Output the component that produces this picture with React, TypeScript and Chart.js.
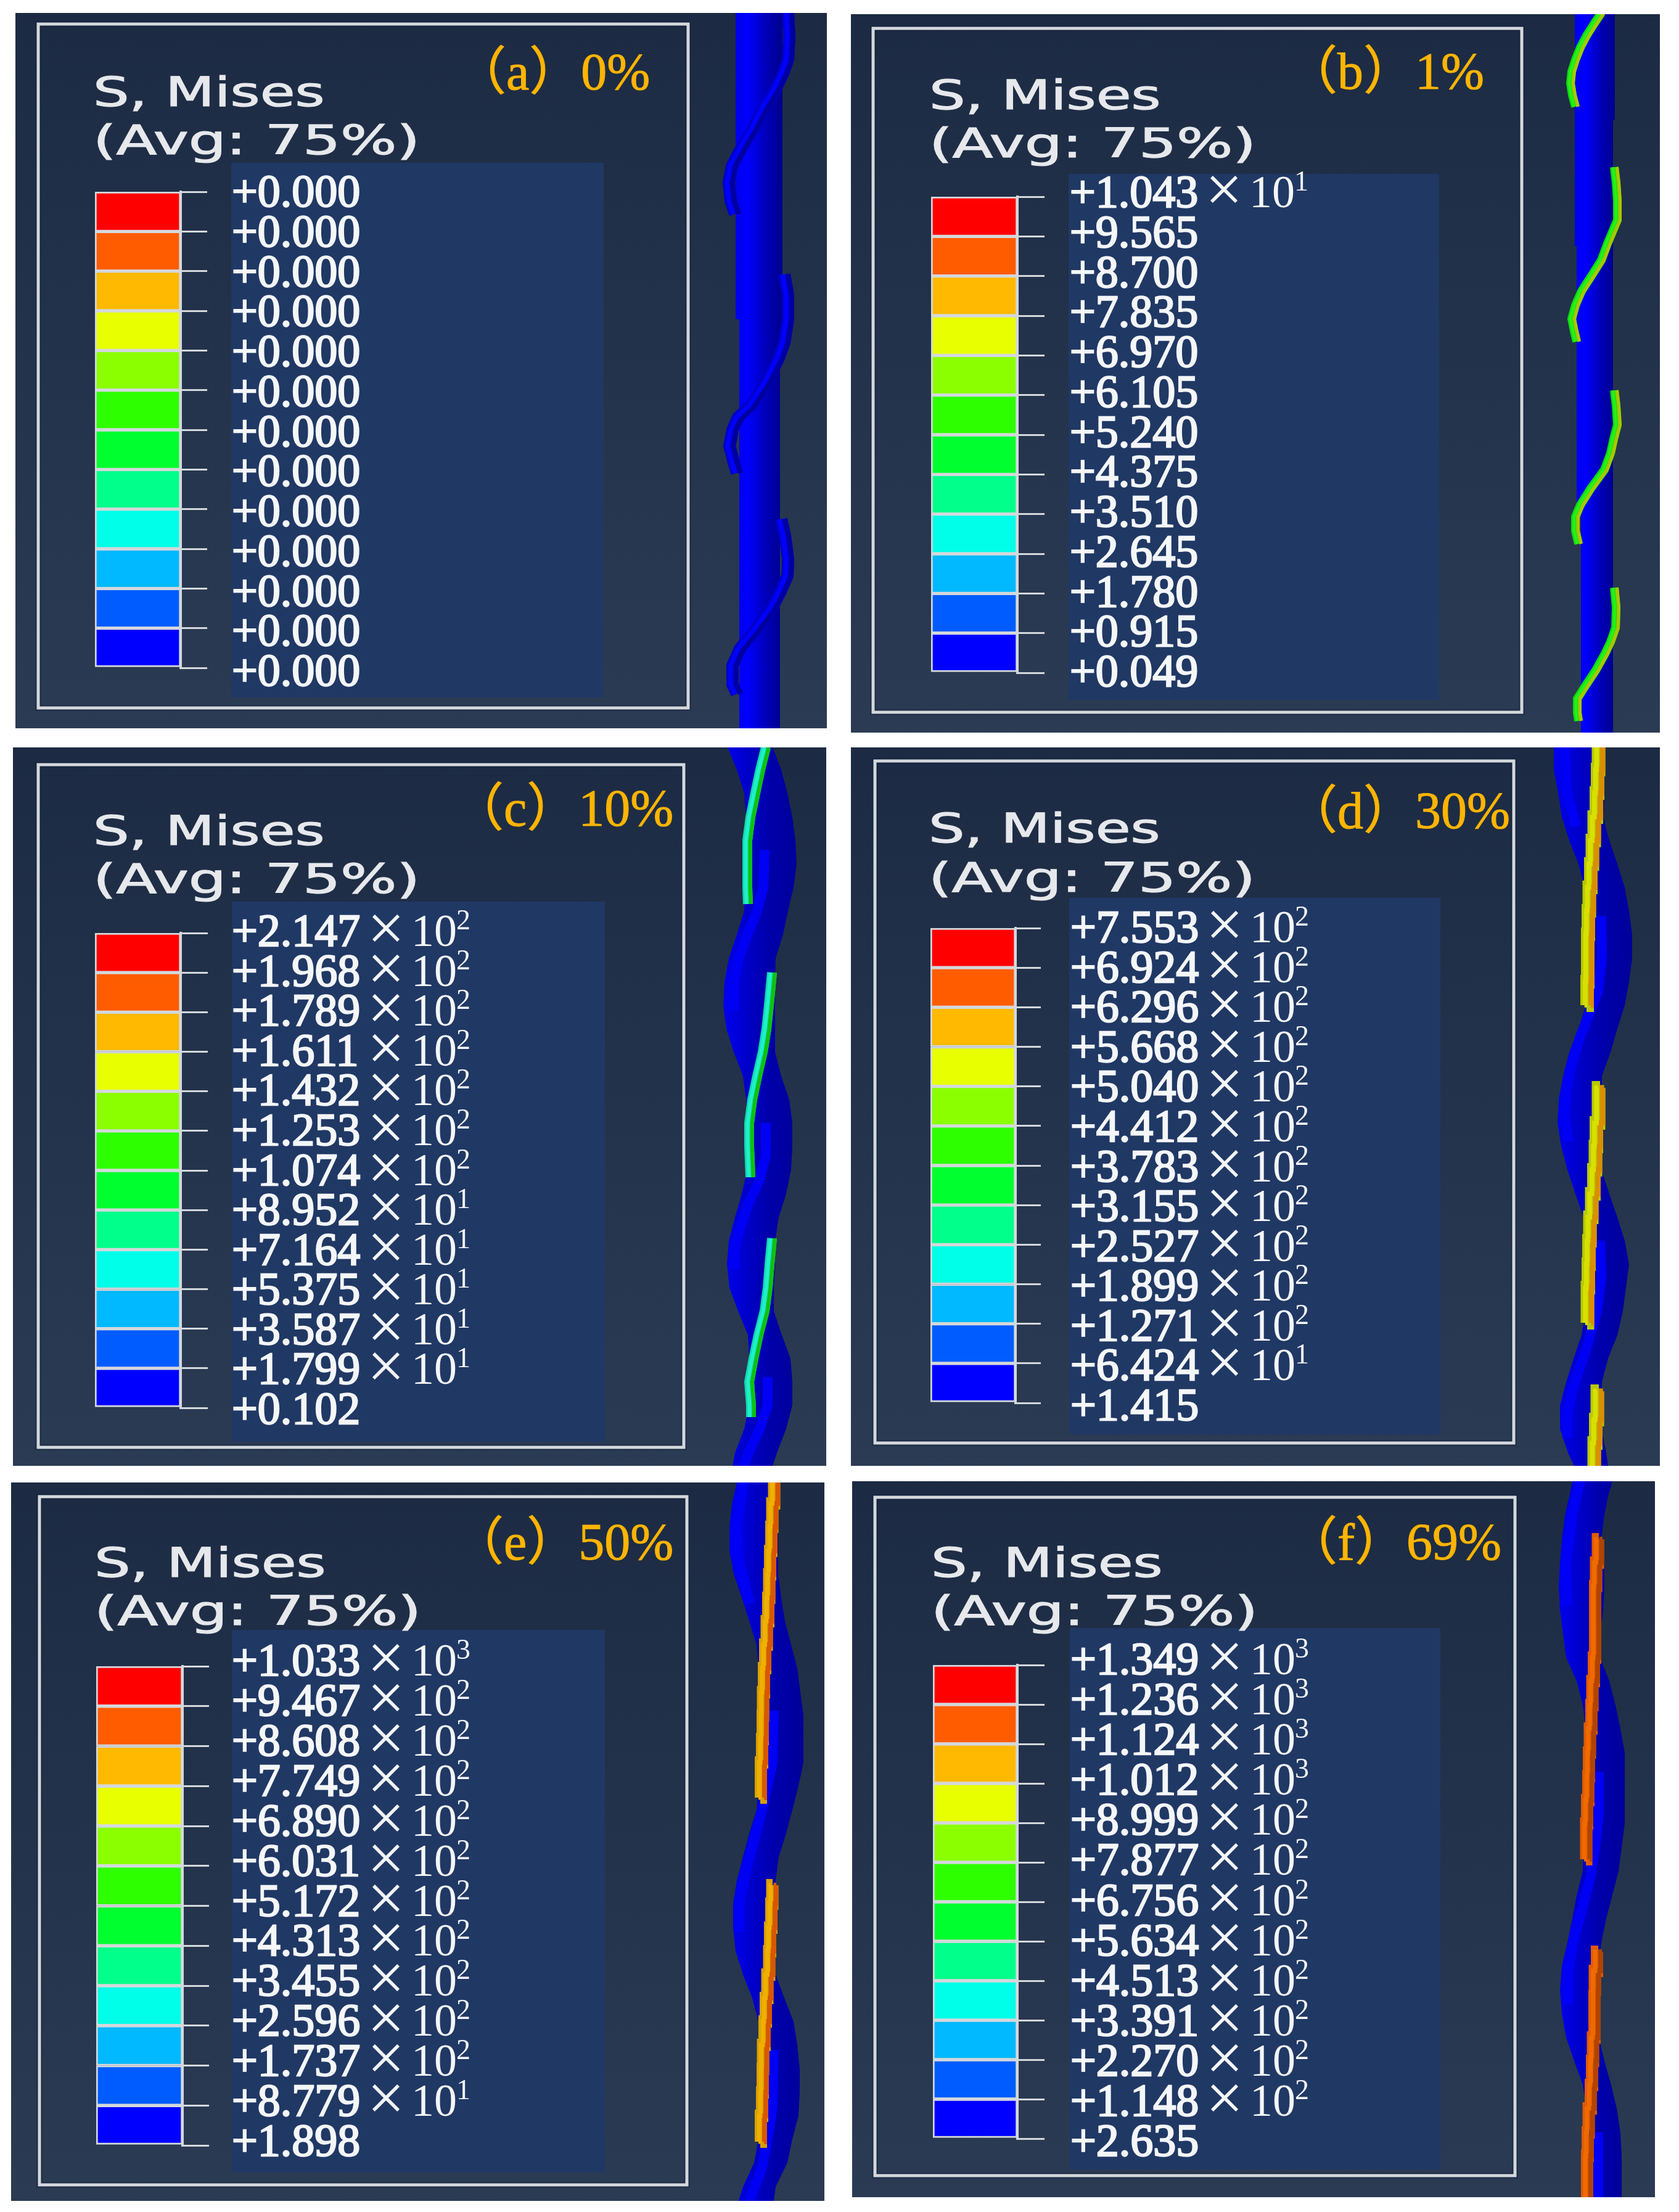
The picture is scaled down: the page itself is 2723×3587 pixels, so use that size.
import React, { useEffect, useRef } from "react";
import { Chart, registerables } from "chart.js";

Chart.register(...registerables);

// ---------- colour legend ----------
const BAND_COLORS = ["#0000ff", "#005cff", "#00b9ff", "#00ffe8", "#00ff8b", "#00ff2e", "#2eff00", "#8bff00", "#e8ff00", "#ffb900", "#ff5c00", "#ff0000"];
const BAND_INDEX = [0, 1, 2, 3, 4, 5, 6, 7, 8, 9, 10, 11];

// ---------- legend tick labels, top to bottom ----------
const valuesA = ["+0.000", "+0.000", "+0.000", "+0.000", "+0.000", "+0.000", "+0.000", "+0.000", "+0.000", "+0.000", "+0.000", "+0.000", "+0.000"];
const expA = [0, 0, 0, 0, 0, 0, 0, 0, 0, 0, 0, 0, 0];
const valuesB = ["+1.043", "+9.565", "+8.700", "+7.835", "+6.970", "+6.105", "+5.240", "+4.375", "+3.510", "+2.645", "+1.780", "+0.915", "+0.049"];
const expB = [1, 0, 0, 0, 0, 0, 0, 0, 0, 0, 0, 0, 0];
const valuesC = ["+2.147", "+1.968", "+1.789", "+1.611", "+1.432", "+1.253", "+1.074", "+8.952", "+7.164", "+5.375", "+3.587", "+1.799", "+0.102"];
const expC = [2, 2, 2, 2, 2, 2, 2, 1, 1, 1, 1, 1, 0];
const valuesD = ["+7.553", "+6.924", "+6.296", "+5.668", "+5.040", "+4.412", "+3.783", "+3.155", "+2.527", "+1.899", "+1.271", "+6.424", "+1.415"];
const expD = [2, 2, 2, 2, 2, 2, 2, 2, 2, 2, 2, 1, 0];
const valuesE = ["+1.033", "+9.467", "+8.608", "+7.749", "+6.890", "+6.031", "+5.172", "+4.313", "+3.455", "+2.596", "+1.737", "+8.779", "+1.898"];
const expE = [3, 2, 2, 2, 2, 2, 2, 2, 2, 2, 2, 1, 0];
const valuesF = ["+1.349", "+1.236", "+1.124", "+1.012", "+8.999", "+7.877", "+6.756", "+5.634", "+4.513", "+3.391", "+2.270", "+1.148", "+2.635"];
const expF = [3, 3, 3, 3, 2, 2, 2, 2, 2, 2, 2, 2, 0];

// ---------- tube outlines: y, left edge, right edge ----------
const tubeAy = [21, 517, 518, 556, 557, 1181];
const tubeAl = [1193, 1193, 1199, 1199, 1199, 1199];
const tubeAr = [1269, 1269, 1269, 1269, 1265, 1265];
const tubeBy = [21, 194, 195, 399, 400, 832, 833, 1188];
const tubeBl = [2554, 2554, 2554, 2554, 2557, 2557, 2564, 2564];
const tubeBr = [2619, 2619, 2616, 2616, 2616, 2616, 2616, 2616];
const tubeCy = [1212, 1248, 1286, 1325, 1363, 1401, 1439, 1477, 1515, 1554, 1592, 1630, 1668, 1706, 1745, 1783, 1821, 1859, 1897, 1936, 1974, 2012, 2050, 2088, 2126, 2165, 2203, 2241, 2279, 2317, 2356, 2377];
const tubeCl = [1180, 1195, 1207, 1210, 1210, 1210, 1208, 1207, 1195, 1182, 1175, 1173, 1178, 1190, 1205, 1210, 1210, 1210, 1212, 1203, 1192, 1182, 1179, 1183, 1197, 1213, 1215, 1208, 1215, 1207, 1192, 1188];
const tubeCr = [1253, 1267, 1277, 1285, 1290, 1292, 1287, 1278, 1270, 1258, 1257, 1257, 1257, 1257, 1267, 1280, 1285, 1285, 1283, 1275, 1263, 1257, 1257, 1255, 1255, 1268, 1282, 1285, 1285, 1275, 1260, 1253];
const tubeDy = [1212, 1248, 1286, 1325, 1363, 1401, 1439, 1477, 1515, 1554, 1592, 1630, 1668, 1706, 1745, 1783, 1821, 1859, 1897, 1936, 1974, 2012, 2050, 2088, 2126, 2165, 2203, 2241, 2279, 2317, 2356, 2377];
const tubeDl = [2520, 2520, 2527, 2533, 2545, 2560, 2570, 2572, 2572, 2572, 2572, 2572, 2560, 2545, 2535, 2528, 2526, 2532, 2542, 2555, 2568, 2572, 2572, 2572, 2572, 2565, 2552, 2540, 2530, 2530, 2543, 2553];
const tubeDr = [2602, 2602, 2602, 2600, 2610, 2623, 2635, 2642, 2647, 2647, 2642, 2635, 2623, 2612, 2598, 2598, 2602, 2597, 2597, 2610, 2623, 2635, 2642, 2637, 2632, 2623, 2608, 2598, 2598, 2597, 2605, 2608];
const tubeEy = [2404, 2438, 2476, 2515, 2553, 2591, 2629, 2667, 2705, 2744, 2782, 2820, 2858, 2896, 2935, 2973, 3011, 3049, 3087, 3126, 3164, 3202, 3240, 3278, 3316, 3355, 3393, 3431, 3469, 3507, 3546, 3569];
const tubeEl = [1195, 1187, 1183, 1183, 1190, 1203, 1215, 1227, 1230, 1230, 1230, 1230, 1230, 1230, 1227, 1215, 1205, 1195, 1189, 1189, 1193, 1205, 1220, 1230, 1230, 1230, 1230, 1230, 1230, 1223, 1205, 1198];
const tubeEr = [1262, 1262, 1262, 1262, 1262, 1267, 1273, 1283, 1293, 1298, 1303, 1303, 1303, 1295, 1285, 1275, 1263, 1258, 1258, 1258, 1258, 1258, 1272, 1287, 1293, 1297, 1297, 1295, 1285, 1277, 1258, 1255];
const tubeFy = [2402, 2426, 2457, 2496, 2534, 2572, 2611, 2649, 2688, 2726, 2765, 2803, 2842, 2880, 2919, 2957, 2996, 3034, 3073, 3111, 3150, 3188, 3227, 3265, 3304, 3342, 3381, 3419, 3458, 3496, 3535, 3563];
const tubeFl = [2550, 2545, 2538, 2533, 2530, 2528, 2530, 2535, 2540, 2557, 2567, 2572, 2570, 2568, 2568, 2568, 2568, 2567, 2557, 2550, 2542, 2533, 2530, 2533, 2540, 2553, 2567, 2573, 2568, 2568, 2568, 2568];
const tubeFr = [2615, 2608, 2602, 2597, 2602, 2602, 2600, 2595, 2595, 2610, 2620, 2628, 2635, 2635, 2635, 2635, 2630, 2625, 2615, 2605, 2597, 2593, 2593, 2593, 2593, 2602, 2613, 2622, 2628, 2630, 2630, 2630];

// ---------- wire centre lines: [y, x] ----------
type P = [number, number];
const wireA: P[][] = [
  [[21, 1278], [58, 1280], [97, 1278], [119, 1270], [146, 1257], [173, 1240], [211, 1220], [250, 1197], [269, 1187], [296, 1182], [326, 1185], [347, 1192]],
  [[445, 1272], [479, 1278], [517, 1278], [556, 1272], [583, 1262], [620, 1243], [658, 1218], [677, 1197], [697, 1188], [723, 1183], [750, 1190], [767, 1195]],
  [[842, 1267], [869, 1273], [907, 1278], [934, 1277], [957, 1267], [984, 1253], [1022, 1225], [1052, 1200], [1079, 1188], [1110, 1188], [1125, 1195]],
];
const wireB: P[][] = [
  [[21, 2597], [39, 2585], [58, 2573], [77, 2563], [97, 2555], [116, 2549], [135, 2547], [154, 2550], [173, 2555]],
  [[271, 2618], [296, 2621], [326, 2623], [357, 2623], [376, 2615], [395, 2607], [422, 2597], [449, 2580], [472, 2565], [495, 2555], [517, 2549], [537, 2553], [554, 2557]],
  [[633, 2618], [658, 2621], [689, 2623], [712, 2617], [735, 2612], [762, 2602], [792, 2580], [819, 2563], [838, 2555], [861, 2555], [882, 2560]],
  [[953, 2618], [984, 2621], [1018, 2620], [1041, 2612], [1060, 2603], [1087, 2588], [1114, 2570], [1133, 2558], [1156, 2558], [1169, 2560]],
];
const wireC: P[][] = [
  [[1212, 1242], [1248, 1233], [1286, 1225], [1325, 1217], [1363, 1212], [1401, 1212], [1439, 1212], [1466, 1213]],
  [[1577, 1252], [1630, 1247], [1668, 1243], [1706, 1237], [1745, 1228], [1783, 1220], [1821, 1215], [1859, 1215], [1909, 1217]],
  [[2008, 1252], [2050, 1248], [2088, 1245], [2126, 1240], [2165, 1230], [2203, 1222], [2241, 1215], [2279, 1218], [2298, 1218]],
];
const wireD: P[][] = [
  [[1212, 2593], [1248, 2592], [1286, 2590], [1325, 2588], [1363, 2583], [1401, 2582], [1439, 2578], [1477, 2577], [1515, 2575], [1554, 2575], [1592, 2575], [1630, 2573]],
  [[1764, 2595], [1821, 2590], [1859, 2588], [1897, 2587], [1936, 2583], [1974, 2580], [2012, 2577], [2050, 2577], [2088, 2575], [2145, 2574]],
  [[2256, 2593], [2302, 2588], [2340, 2588], [2377, 2583]],
];
const wireE: P[][] = [
  [[2404, 1258], [2438, 1253], [2476, 1252], [2515, 1250], [2553, 1248], [2591, 1247], [2629, 1245], [2667, 1242], [2705, 1240], [2744, 1238], [2782, 1237], [2820, 1237], [2858, 1235], [2915, 1233]],
  [[3057, 1253], [3087, 1252], [3126, 1250], [3164, 1248], [3202, 1247], [3240, 1242], [3278, 1242], [3316, 1238], [3355, 1237], [3393, 1237], [3431, 1235], [3473, 1233]],
];
const wireF: P[][] = [
  [[2496, 2593], [2534, 2590], [2572, 2587], [2611, 2587], [2649, 2587], [2688, 2587], [2726, 2583], [2765, 2582], [2803, 2580], [2842, 2577], [2880, 2577], [2919, 2575], [2957, 2573], [3015, 2572]],
  [[3165, 2592], [3196, 2588], [3227, 2585], [3265, 2587], [3304, 2585], [3342, 2582], [3381, 2582], [3419, 2578], [3458, 2575], [3496, 2575], [3563, 2573]],
];

// ---------- bright streaks on the tube: [y, x] ----------
const streakC: P[][] = [
  [[1378, 1240], [1439, 1238], [1477, 1228], [1515, 1212], [1554, 1198], [1592, 1190], [1638, 1190]],
  [[1821, 1242], [1874, 1242], [1913, 1232], [1951, 1214], [1989, 1201], [2020, 1192], [2058, 1192]],
  [[2233, 1245], [2279, 1245], [2317, 1232], [2356, 1214], [2377, 1206]],
];
const streakD: P[][] = [
  [[1212, 2537], [1286, 2542], [1340, 2556]],
  [[1485, 2597], [1554, 2598], [1607, 2592], [1645, 2577], [1683, 2562], [1729, 2548], [1767, 2540], [1813, 2538], [1851, 2544]],
  [[2012, 2595], [2073, 2597], [2126, 2590], [2180, 2575], [2218, 2562], [2256, 2550], [2294, 2542], [2333, 2542]],
];
const streakE: P[][] = [
  [[2404, 1206], [2476, 1195], [2530, 1198], [2600, 1216]],
  [[2774, 1255], [2858, 1253], [2904, 1243], [2950, 1232], [2996, 1220], [3041, 1208], [3087, 1199], [3133, 1199]],
  [[3324, 1255], [3416, 1253], [3469, 1245], [3515, 1236], [3568, 1216]],
];
const streakF: P[][] = [
  [[2402, 2563], [2457, 2550], [2534, 2540], [2603, 2542]],
  [[2873, 2593], [2942, 2593], [2996, 2587], [3042, 2580], [3096, 2566], [3142, 2553], [3196, 2543], [3250, 2543]],
  [[3458, 2592], [3535, 2592], [3563, 2592]],
];

// ---------- layout ----------
interface Box { x0: number; y0: number; x1: number; y1: number }
const box = (x0: number, y0: number, x1: number, y1: number): Box => ({ x0, y0, x1, y1 });

const STRAIGHT_STOPS: [number, string][] = [[0, "#0000e8"], [0.25, "#0000ff"], [0.65, "#0000b8"], [1, "#00008c"]];
const WAVY_STOPS: [number, string][] = [[0, "#0000f0"], [0.3, "#0000cc"], [0.6, "#0000ac"], [1, "#00009a"]];

const PANELS = [
  { tag: "（a）0%", values: valuesA, exps: expA, bg: box(25, 21, 1341, 1181), frame: box(62, 39, 1116, 1148), bar: box(154, 311, 293, 1083), tick: 336, lab: box(375, 264, 979, 1131), textX: 376, first: 310, last: 1087, titleX: 151, t1: 172, t2: 250, cornerX: 795, cornerY: 145, tube: { y: tubeAy, l: tubeAl, r: tubeAr, wires: wireA, streaks: [] as P[][], stops: STRAIGHT_STOPS, stepped: false, w: 20, c1: "#0000c8", c2: "#0000ff", c3: "#0000a0" } },
  { tag: "（b）1%", values: valuesB, exps: expB, bg: box(1380, 23, 2692, 1188), frame: box(1416, 46, 2468, 1155), bar: box(1510, 319, 1650, 1091), tick: 1694, lab: box(1733, 282, 2334, 1135), textX: 1735, first: 311, last: 1088, titleX: 1507, t1: 177, t2: 255, cornerX: 2143, cornerY: 144, tube: { y: tubeBy, l: tubeBl, r: tubeBr, wires: wireB, streaks: [] as P[][], stops: STRAIGHT_STOPS, stepped: false, w: 14, c1: "#10d810", c2: "#28f018", c3: "#a8c800" } },
  { tag: "（c）10%", values: valuesC, exps: expC, bg: box(21, 1212, 1340, 2377), frame: box(62, 1240, 1109, 2347), bar: box(154, 1513, 293, 2283), tick: 337, lab: box(376, 1462, 981, 2338), textX: 376, first: 1509, last: 2284, titleX: 151, t1: 1370, t2: 1448, cornerX: 791, cornerY: 1339, tube: { y: tubeCy, l: tubeCl, r: tubeCr, wires: wireC, streaks: streakC, stops: WAVY_STOPS, stepped: false, w: 16, c1: "#10d8b0", c2: "#20f0c8", c3: "#10c010" } },
  { tag: "（d）30%", values: valuesD, exps: expD, bg: box(1380, 1212, 2692, 2377), frame: box(1419, 1234, 2455, 2340), bar: box(1509, 1505, 1647, 2275), tick: 1688, lab: box(1734, 1456, 2336, 2326), textX: 1736, first: 1503, last: 2278, titleX: 1506, t1: 1366, t2: 1446, cornerX: 2143, cornerY: 1343, tube: { y: tubeDy, l: tubeDl, r: tubeDr, wires: wireD, streaks: streakD, stops: WAVY_STOPS, stepped: true, w: 22, c1: "#b8c800", c2: "#d8e000", c3: "#d89000" } },
  { tag: "（e）50%", values: valuesE, exps: expE, bg: box(18, 2404, 1337, 3569), frame: box(64, 2427, 1114, 3543), bar: box(156, 2702, 296, 3479), tick: 339, lab: box(376, 2643, 981, 3523), textX: 376, first: 2692, last: 3471, titleX: 153, t1: 2557, t2: 2635, cornerX: 791, cornerY: 2529, tube: { y: tubeEy, l: tubeEl, r: tubeEr, wires: wireE, streaks: streakE, stops: WAVY_STOPS, stepped: true, w: 20, c1: "#d8a000", c2: "#f0b000", c3: "#d85800" } },
  { tag: "（f）69%", values: valuesF, exps: expF, bg: box(1382, 2402, 2684, 3563), frame: box(1419, 2428, 2457, 3528), bar: box(1513, 2700, 1650, 3468), tick: 1694, lab: box(1735, 2640, 2336, 3518), textX: 1736, first: 2690, last: 3471, titleX: 1510, t1: 2557, t2: 2635, cornerX: 2143, cornerY: 2529, tube: { y: tubeFy, l: tubeFl, r: tubeFr, wires: wireF, streaks: streakF, stops: WAVY_STOPS, stepped: true, w: 20, c1: "#e05a00", c2: "#f06a00", c3: "#b04400" } },
];

const SERIF = '"Liberation Serif", serif';
const WHITE = "#f4f6f8";
const LINE = "#d4d8dc";

type Panel = (typeof PANELS)[number];

function makeLegendChart(canvas: HTMLCanvasElement, p: Panel) {
  const W = p.bg.x1 - p.bg.x0;
  const H = p.bg.y1 - p.bg.y0;
  const lx = (x: number) => x - p.bg.x0;
  const ly = (y: number) => y - p.bg.y0;
  const tickLen = p.tick - p.bar.x1;

  const panelPlugin = {
    id: "panel",
    beforeDraw(chart: Chart) {
      const ctx = chart.ctx;
      ctx.save();
      const g = ctx.createLinearGradient(0, 0, 0, H);
      g.addColorStop(0, "#1c2b43");
      g.addColorStop(1, "#2b3b53");
      ctx.fillStyle = g;
      ctx.fillRect(0, 0, W, H);
      // label plate
      ctx.fillStyle = "#203864";
      ctx.fillRect(lx(p.lab.x0), ly(p.lab.y0), p.lab.x1 - p.lab.x0, p.lab.y1 - p.lab.y0);
      // frame with dark halo
      ctx.strokeStyle = "rgba(14,30,56,0.55)";
      ctx.lineWidth = 9;
      ctx.strokeRect(lx(p.frame.x0), ly(p.frame.y0), p.frame.x1 - p.frame.x0, p.frame.y1 - p.frame.y0);
      ctx.strokeStyle = LINE;
      ctx.lineWidth = 5;
      ctx.strokeRect(lx(p.frame.x0), ly(p.frame.y0), p.frame.x1 - p.frame.x0, p.frame.y1 - p.frame.y0);
      // title
      ctx.fillStyle = "#e6e8ec";
      ctx.strokeStyle = "#e6e8ec";
      ctx.lineWidth = 1.2;
      ctx.font = '65px "DejaVu Sans"';
      ctx.textBaseline = "alphabetic";
      ctx.textAlign = "left";
      for (const [txt, by, sx] of [["S, Mises", p.t1, 1.42], ["(Avg: 75%)", p.t2, 1.48]] as [string, number, number][]) {
        ctx.save();
        ctx.translate(lx(p.titleX), ly(by));
        ctx.scale(sx, 1);
        ctx.fillText(txt, 0, 0);
        ctx.strokeText(txt, 0, 0);
        ctx.restore();
      }
      // corner tag
      ctx.fillStyle = "#ffb400";
      ctx.strokeStyle = "#ffb400";
      ctx.lineWidth = 1;
      ctx.font = `84px ${SERIF}, "Noto Sans CJK SC"`;
      ctx.fillText(p.tag, lx(p.cornerX) - 58, ly(p.cornerY));
      ctx.strokeText(p.tag, lx(p.cornerX) - 58, ly(p.cornerY));
      ctx.restore();
    },
    afterDraw(chart: Chart) {
      const ctx = chart.ctx;
      ctx.save();
      ctx.fillStyle = WHITE;
      ctx.strokeStyle = WHITE;
      ctx.textBaseline = "alphabetic";
      p.values.forEach((v, i) => {
        const yc = ly(p.first + ((p.last - p.first) * i) / 12);
        const x = lx(p.textX);
        const base = yc + 25;
        ctx.textAlign = "left";
        ctx.font = `74px ${SERIF}`;
        ctx.lineWidth = 2.4;
        ctx.fillText(v, x, base);
        ctx.strokeText(v, x, base);
        const e = p.exps[i];
        if (e > 0) {
          ctx.textAlign = "center";
          ctx.font = `108px ${SERIF}`;
          ctx.fillText("×", x + 250, yc + 32);
          ctx.textAlign = "left";
          ctx.font = `74px ${SERIF}`;
          ctx.fillText("10", x + 291, base);
          ctx.font = `46px ${SERIF}`;
          ctx.fillText(String(e), x + 364, base - 27);
        }
      });
      ctx.restore();
    },
  };

  return new Chart(canvas, {
    type: "bar",
    data: {
      labels: ["S"],
      datasets: BAND_INDEX.map((b) => ({
        label: String(b),
        data: [[b, b + 1]] as any,
        backgroundColor: BAND_COLORS[b],
        borderColor: LINE,
        borderWidth: 3,
        borderSkipped: false,
        grouped: false,
        barPercentage: 1,
        categoryPercentage: 1,
      })),
    },
    options: {
      responsive: false,
      devicePixelRatio: 1,
      animation: false,
      layout: {
        padding: {
          left: lx(p.bar.x0),
          right: W - lx(p.bar.x1) - tickLen,
          top: ly(p.bar.y0),
          bottom: H - ly(p.bar.y1),
        },
      },
      plugins: { legend: { display: false }, tooltip: { enabled: false } },
      scales: {
        x: { stacked: false, display: false },
        y: {
          position: "right",
          min: 0,
          max: 12,
          ticks: { display: false, stepSize: 1 },
          border: { display: true, color: LINE, width: 4 },
          grid: { color: LINE, lineWidth: 3, tickLength: tickLen, drawOnChartArea: false },
          afterFit(scale: any) {
            scale.width = tickLen;
          },
        },
      },
    },
    plugins: [panelPlugin],
  } as any);
}

function makeTubeChart(canvas: HTMLCanvasElement, p: Panel, xMin: number, xMax: number) {
  const t = p.tube;
  const toPts = (xs: number[]) => t.y.map((y, i) => ({ x: xs[i], y }));
  const pathPts = (w: P[], dx = 0) => w.map(([y, x]) => ({ x: x + dx, y }));
  const W = xMax - xMin;
  const lineBase = { pointRadius: 0, fill: false, tension: 0, borderCapStyle: "butt" as const };
  const datasets: any[] = [
    { ...lineBase, order: 10, label: "left", data: toPts(t.l), borderWidth: 0, borderColor: "transparent" },
    {
      ...lineBase,
      order: 9,
      label: "right",
      data: toPts(t.r),
      borderWidth: 0,
      borderColor: "transparent",
      fill: "-1",
      backgroundColor: (c: any) => {
        const a = c.chart.chartArea;
        if (!a) return "#0000c0";
        const mn = Math.min(...t.l), mx = Math.max(...t.r);
        const g = c.chart.ctx.createLinearGradient(((mn - xMin) / W) * a.width, 0, ((mx - xMin) / W) * a.width, 0);
        t.stops.forEach(([o, col]) => g.addColorStop(o, col));
        return g;
      },
    },
  ];
  t.streaks.forEach((s) => {
    datasets.push({ ...lineBase, order: 5, data: pathPts(s), borderColor: "#0000f4", borderWidth: 16 });
  });
  t.wires.forEach((w) => {
    const st = t.stepped ? "middle" : false;
    datasets.push({ ...lineBase, stepped: st, order: 3, data: pathPts(w), borderColor: t.c1, borderWidth: t.w });
    datasets.push({ ...lineBase, stepped: st, order: 2, data: pathPts(w, t.w * 0.3), borderColor: t.c3, borderWidth: t.w * 0.4 });
    datasets.push({ ...lineBase, stepped: st, order: 1, data: pathPts(w, -t.w * 0.15), borderColor: t.c2, borderWidth: t.w * 0.35 });
  });
  return new Chart(canvas, {
    type: "line",
    data: { datasets },
    options: {
      indexAxis: "y",
      responsive: false,
      devicePixelRatio: 1,
      animation: false,
      layout: { padding: 0 },
      plugins: { legend: { display: false }, tooltip: { enabled: false } },
      scales: {
        x: { type: "linear", display: false, min: xMin, max: xMax },
        y: { type: "linear", display: false, min: p.bg.y0, max: p.bg.y1, reverse: true },
      },
    },
  } as any);
}

function PanelView({ p }: { p: Panel }) {
  const legend = useRef<HTMLCanvasElement>(null);
  const tube = useRef<HTMLCanvasElement>(null);
  const xMin = p.lab.x1 + 120;
  const xMax = p.bg.x1;
  useEffect(() => {
    const a = makeLegendChart(legend.current!, p);
    const b = makeTubeChart(tube.current!, p, xMin, xMax);
    return () => {
      a.destroy();
      b.destroy();
    };
  }, []);
  const W = p.bg.x1 - p.bg.x0;
  const H = p.bg.y1 - p.bg.y0;
  return (
    <>
      <canvas ref={legend} width={W} height={H} style={{ position: "absolute", left: p.bg.x0, top: p.bg.y0, width: W, height: H }} />
      <canvas ref={tube} width={xMax - xMin} height={H} style={{ position: "absolute", left: xMin, top: p.bg.y0, width: xMax - xMin, height: H }} />
    </>
  );
}

export default function App() {
  return (
    <div style={{ position: "absolute", left: 0, top: 0, width: 2723, height: 3587, background: "#fff", overflow: "hidden" }}>
      {PANELS.map((p) => (
        <PanelView key={p.tag} p={p} />
      ))}
    </div>
  );
}
